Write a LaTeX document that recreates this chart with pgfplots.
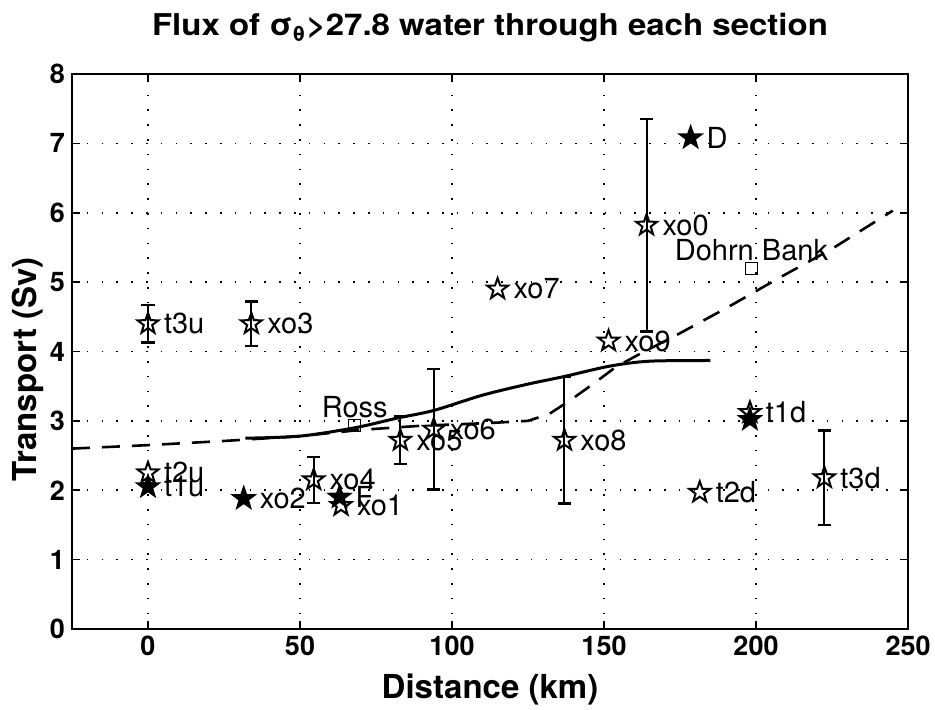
\documentclass[border=0pt]{standalone}
\usepackage{fontspec}
\setmainfont{TeX Gyre Heros}
\newfontfamily\titlefont[FakeStretch=1.1]{TeX Gyre Heros}
\usepackage{pgfplots}
\pgfplotsset{compat=1.18}
\usepackage{pgfplotstable}

% five-pointed star, open and filled
\pgfdeclareplotmark{pstar}{%
  \pgfpathmoveto{\pgfpointpolar{90}{\pgfplotmarksize}}%
  \pgfpathlineto{\pgfpointpolar{126}{0.4\pgfplotmarksize}}%
  \pgfpathlineto{\pgfpointpolar{162}{\pgfplotmarksize}}%
  \pgfpathlineto{\pgfpointpolar{198}{0.4\pgfplotmarksize}}%
  \pgfpathlineto{\pgfpointpolar{234}{\pgfplotmarksize}}%
  \pgfpathlineto{\pgfpointpolar{270}{0.4\pgfplotmarksize}}%
  \pgfpathlineto{\pgfpointpolar{306}{\pgfplotmarksize}}%
  \pgfpathlineto{\pgfpointpolar{342}{0.4\pgfplotmarksize}}%
  \pgfpathlineto{\pgfpointpolar{18}{\pgfplotmarksize}}%
  \pgfpathlineto{\pgfpointpolar{54}{0.4\pgfplotmarksize}}%
  \pgfpathclose
  \pgfusepathqstroke}
\pgfdeclareplotmark{pstarf}{%
  \pgfpathmoveto{\pgfpointpolar{90}{\pgfplotmarksize}}%
  \pgfpathlineto{\pgfpointpolar{126}{0.4\pgfplotmarksize}}%
  \pgfpathlineto{\pgfpointpolar{162}{\pgfplotmarksize}}%
  \pgfpathlineto{\pgfpointpolar{198}{0.4\pgfplotmarksize}}%
  \pgfpathlineto{\pgfpointpolar{234}{\pgfplotmarksize}}%
  \pgfpathlineto{\pgfpointpolar{270}{0.4\pgfplotmarksize}}%
  \pgfpathlineto{\pgfpointpolar{306}{\pgfplotmarksize}}%
  \pgfpathlineto{\pgfpointpolar{342}{0.4\pgfplotmarksize}}%
  \pgfpathlineto{\pgfpointpolar{18}{\pgfplotmarksize}}%
  \pgfpathlineto{\pgfpointpolar{54}{0.4\pgfplotmarksize}}%
  \pgfpathclose
  \pgfusepathqfillstroke}

% sections with error estimates
\pgfplotstableread{
x     y     e     lab
0     4.40  0.27  t3u
34    4.40  0.32  xo3
54.5  2.15  0.33  xo4
83    2.72  0.34  xo5
94    2.88  0.87  xo6
137   2.72  0.91  xo8
164   5.82  1.53  xo0
222.5 2.18  0.68  t3d
}\errdata

\pgfplotstableread{
x     y     lab
0     2.25  t2u
63.5  1.78  xo1
115   4.90  xo7
151.5 4.15  xo9
181.5 1.97  t2d
198   3.12  t1d
}\opendata

\pgfplotstableread{
x     y     lab
0     2.05  t1u
31.5  1.88  xo2
63    1.90  F
178.5 7.08  D
}\filldata

\pgfplotstableread{
x     y     lab
68    2.93  Ross
198.5 5.20  {Dohrn Bank}
}\sqdata

\pgfplotstableread{
x    y
32   2.75
50   2.78
68   2.90
82   3.04
94   3.15
110  3.37
125  3.53
137  3.64
152  3.79
165  3.86
185  3.87
}\solidline

\pgfplotstableread{
x    y
-25  2.60
0    2.65
25   2.71
50   2.78
70   2.87
90   2.93
113  2.97
125  3.00
132  3.10
139  3.30
147  3.55
154  3.78
162  3.97
174  4.24
190  4.62
208  5.07
225  5.48
245  6.03
}\dashline

\begin{document}
\begin{tikzpicture}
\begin{axis}[
    name=ax,
    scale only axis,
    width=418pt, height=277.5pt,
    xmin=-25, xmax=250, ymin=0, ymax=8,
    xtick={0,50,...,250}, ytick={0,1,...,8},
    grid=major,
    grid style={black, line width=0.8pt, dash pattern=on 0.8pt off 6.6pt},
    axis line style={line width=1.1pt},
    tick style={black, line width=0.8pt},
    tick align=inside, major tick length=4pt,
    ticklabel style={font=\bfseries\fontsize{13.5}{13.5}\selectfont},
    /pgf/number format/assume math mode=true,
    xlabel={Distance (km)}, ylabel={Transport (Sv)},
    label style={font=\bfseries\fontsize{16.5}{16.5}\selectfont},
    xlabel style={at={(0.5,0)}, anchor=base, yshift=-35pt},
    ylabel style={at={(0,0.5)}, anchor=center, xshift=-9pt, yshift=22pt},
    title={Flux of σ\textsubscript{θ}>27.8 water through each section},
    title style={font=\titlefont\bfseries\fontsize{15}{15}\selectfont,
        at={(0.5,1)}, anchor=base, yshift=13pt},
    clip=false,
    every node near coord/.style={anchor=west, xshift=7.5pt, inner sep=0pt,
        font=\fontsize{14.5}{14.5}\selectfont, black},
]
\addplot[black, line width=1.5pt, smooth] table[x=x, y=y] {\solidline};
\addplot[black, line width=1.3pt, dash pattern=on 9pt off 6pt] table[x=x, y=y] {\dashline};

\addplot[black, only marks, mark=pstar, mark size=5.5pt, line width=1pt,
    nodes near coords, point meta=explicit symbolic,
    error bars/.cd, y dir=both, y explicit,
    error bar style={line width=1pt},
    error mark options={black, rotate=90, mark size=3.3pt, line width=1.2pt}]
    table[x=x, y=y, y error=e, meta=lab] {\errdata};

\addplot[black, only marks, mark=pstar, mark size=5.5pt, line width=1pt,
    nodes near coords, point meta=explicit symbolic]
    table[x=x, y=y, meta=lab] {\opendata};

\addplot[black, only marks, mark=pstarf, mark size=5.5pt, line width=1pt,
    nodes near coords, point meta=explicit symbolic]
    table[x=x, y=y, meta=lab] {\filldata};

\addplot[black, only marks, mark=pstarf, mark size=5.5pt, line width=1pt]
    coordinates {(198,3.02)};

\addplot[black, only marks, mark=square, mark size=3pt, line width=0.7pt,
    nodes near coords, point meta=explicit symbolic,
    every node near coord/.style={anchor=south, yshift=3.5pt, inner sep=0pt,
        font=\fontsize{14.5}{14.5}\selectfont, black}]
    table[x=x, y=y, meta=lab] {\sqdata};
\end{axis}
\pgfresetboundingbox
\path[use as bounding box] ([shift={(-36pt,-40.5pt)}]ax.south west)
    rectangle ([shift={(13.5pt,37pt)}]ax.north east);
\end{tikzpicture}
\end{document}
